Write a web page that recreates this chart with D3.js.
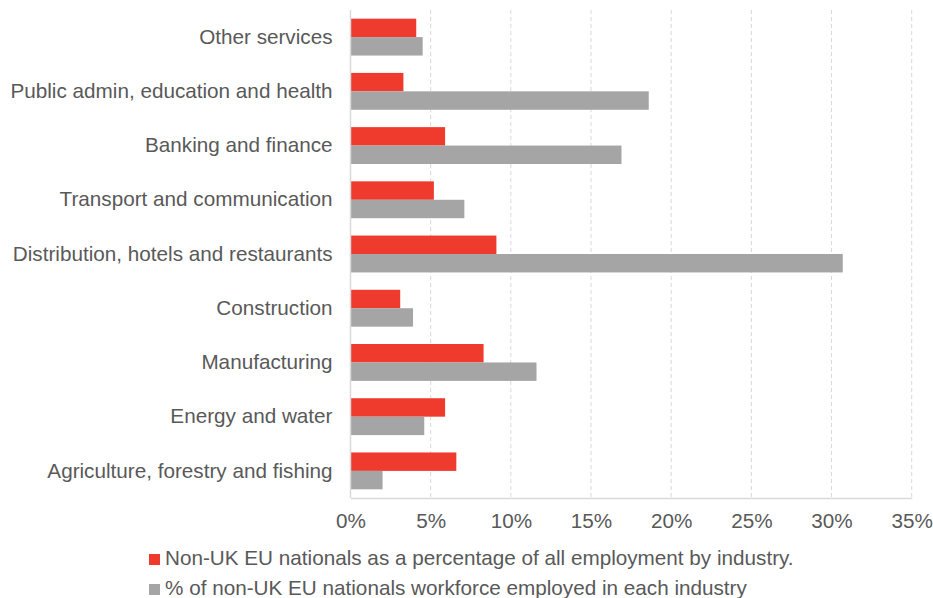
<!DOCTYPE html>
<html>
<head>
<meta charset="utf-8">
<script src="https://cdn.jsdelivr.net/npm/d3@7"></script>
<style>
  html, body { margin: 0; padding: 0; background: #fff; }
  svg { display: block; font-family: "Liberation Sans", Arial, sans-serif; }
</style>
</head>
<body>
<svg id="chart" width="933" height="598"></svg>
<script>
const categories = [
  "Other services",
  "Public admin, education and health",
  "Banking and finance",
  "Transport and communication",
  "Distribution, hotels and restaurants",
  "Construction",
  "Manufacturing",
  "Energy and water",
  "Agriculture, forestry and fishing"
];
const shareOfEmployment = [4.1, 3.3, 5.9, 5.2, 9.1, 3.1, 8.3, 5.9, 6.6];
const shareOfWorkforce  = [4.5, 18.6, 16.9, 7.1, 30.7, 3.9, 11.6, 4.6, 2.0];
const seriesNames = [
  "Non-UK EU nationals as a percentage of all employment by industry.",
  "% of non-UK EU nationals workforce employed in each industry"
];
const tickValues = [0, 5, 10, 15, 20, 25, 30, 35];
const colors = ["#EE3B2E", "#A5A5A5"];

const svg = d3.select("#chart");
const margin = { left: 350.5, right: 21.3, top: 10, bottom: 100 };
const W = 933, H = 598;
const x = d3.scaleLinear().domain([0, 35]).range([margin.left, W - margin.right]);
const y = d3.scaleBand().domain(categories).range([margin.top, 498])
  .paddingInner(0.32).paddingOuter(0.16);
const sub = d3.scaleBand().domain([0, 1]).range([0, y.bandwidth()]);

const textColor = "#595959";
const fs = "20.7px";

// gridlines
svg.append("g").selectAll("line").data(tickValues.filter(d => d > 0)).join("line")
  .attr("x1", d => x(d)).attr("x2", d => x(d))
  .attr("y1", margin.top).attr("y2", 498)
  .attr("stroke", "#D9D9D9").attr("stroke-width", 1)
  .attr("stroke-dasharray", "4,3");

// bars
const series = [shareOfEmployment, shareOfWorkforce];
series.forEach((vals, si) => {
  svg.append("g").selectAll("rect").data(vals).join("rect")
    .attr("x", x(0))
    .attr("y", (d, i) => y(categories[i]) + sub(si))
    .attr("width", d => x(d) - x(0))
    .attr("height", sub.bandwidth())
    .attr("fill", colors[si]);
});

// y axis line
svg.append("line").attr("x1", x(0)).attr("x2", x(0))
  .attr("y1", margin.top).attr("y2", 498)
  .attr("stroke", "#D9D9D9").attr("stroke-width", 1.5);

// category labels
const yAxis = d3.axisLeft(y).tickSize(0).tickPadding(18);
const gy = svg.append("g").attr("transform", `translate(${x(0)},0)`).call(yAxis);
gy.select(".domain").remove();
gy.selectAll("text").attr("font-size", fs).attr("fill", textColor)
  .attr("font-family", "Liberation Sans, Arial, sans-serif");

// x axis
const xAxis = d3.axisBottom(x).tickValues(tickValues).tickFormat(d => d + "%")
  .tickSize(0).tickPadding(15);
const gx = svg.append("g").attr("transform", `translate(0,498)`).call(xAxis);
gx.select(".domain").attr("stroke", "#D9D9D9").attr("stroke-width", 1.5);
gx.selectAll("text").attr("font-size", fs).attr("fill", textColor)
  .attr("font-family", "Liberation Sans, Arial, sans-serif");

// legend
const leg = svg.append("g");
seriesNames.forEach((name, i) => {
  const yy = 565 + i * 30;
  leg.append("rect").attr("x", 149).attr("y", yy - 11).attr("width", 11).attr("height", 11)
    .attr("fill", colors[i]);
  leg.append("text").attr("x", 165).attr("y", yy).text(name)
    .attr("font-size", fs).attr("fill", textColor);
});
</script>
</body>
</html>
